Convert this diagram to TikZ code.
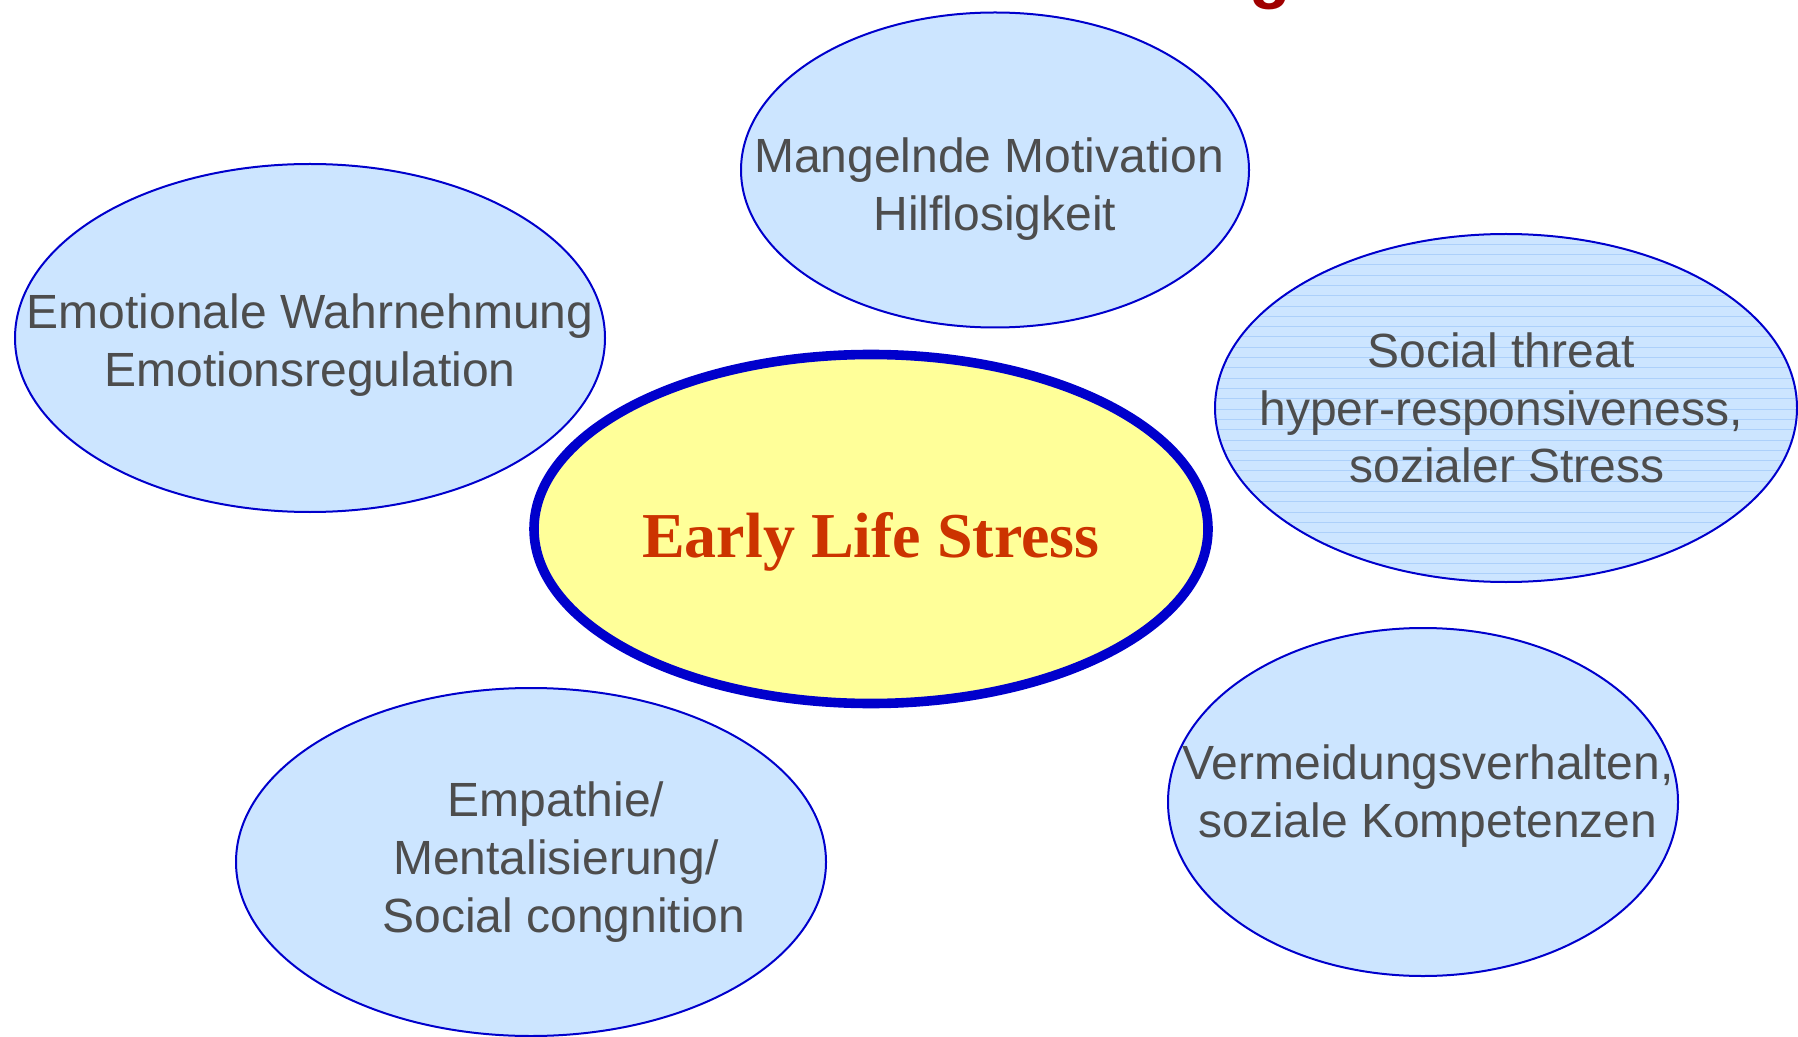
\documentclass[tikz,border=0pt]{standalone}
\usepackage{fontspec}
\setmainfont{Liberation Sans}
\newfontfamily\headserif{Liberation Serif}
\usetikzlibrary{shapes.geometric}

\definecolor{bubblefill}{RGB}{204,229,255}
\definecolor{bubbleline}{RGB}{0,0,204}
\definecolor{corefill}{RGB}{255,255,153}
\definecolor{coretext}{RGB}{204,51,0}
\definecolor{labeltext}{RGB}{77,77,77}
\definecolor{titlered}{RGB}{160,0,0}
\definecolor{stripe}{RGB}{172,208,250}

\begin{document}
\begin{tikzpicture}[x=0.5pt,y=-0.5pt,
  bubble/.style={ellipse, draw=bubbleline, line width=1pt, fill=bubblefill, inner sep=0pt},
  core/.style={ellipse, draw=bubbleline, line width=4.8pt, fill=corefill, inner sep=0pt},
  bubbletext/.style={align=center, text=labeltext, inner sep=0pt,
    font=\fontsize{24}{28.8}\selectfont},
  striped/.style={path picture={
    \foreach \k in {1,...,34}
      \draw[stripe, line width=0.5pt]
        ([yshift=-\k*5.15pt]path picture bounding box.north west) --
        ([yshift=-\k*5.15pt]path picture bounding box.north east);}},
]
\useasboundingbox (0,0) rectangle (1798,1037);

% lower edge of the cut-off heading
\node[font=\bfseries\fontsize{34}{34}\selectfont, text=titlered, anchor=base,
  inner sep=0pt] (headg) at (1270,-4) {g};

% surrounding topics
\node[bubble, minimum width=254pt, minimum height=157.5pt] (motiv) at (995,170) {};
\node[bubble, minimum width=295pt, minimum height=174pt] (emo) at (310,338) {};
\node[bubble, striped, minimum width=291pt, minimum height=174pt] (threat) at (1506,408) {};
\node[bubble, minimum width=295pt, minimum height=174pt] (empath) at (531,862) {};
\node[bubble, minimum width=255pt, minimum height=174pt] (avoid) at (1423,802) {};

% central theme
\node[core, minimum width=337pt, minimum height=174.5pt] (els) at (871,529) {};

\node[bubbletext] (motivtext) at (989,189) {Mangelnde Motivation\\\hspace*{6pt}Hilflosigkeit};
\node[bubbletext] (emotext) at (310,345) {Emotionale Wahrnehmung\\Emotionsregulation};
\node[bubbletext] (threattext) at (1501,408) {Social threat\\hyper-responsiveness,\\\hspace*{6pt}sozialer Stress};
\node[bubbletext] (empathtext) at (556,862) {Empathie/\\Mentalisierung/\\\hspace*{8pt}Social congnition};
\node[bubbletext] (avoidtext) at (1428,796) {Vermeidungsverhalten,\\soziale Kompetenzen};

\node[anchor=base, inner sep=0pt, text=coretext,
  font=\headserif\bfseries\fontsize{32}{38}\selectfont] (elstext) at (871,557) {Early Life Stress};
\end{tikzpicture}
\end{document}
